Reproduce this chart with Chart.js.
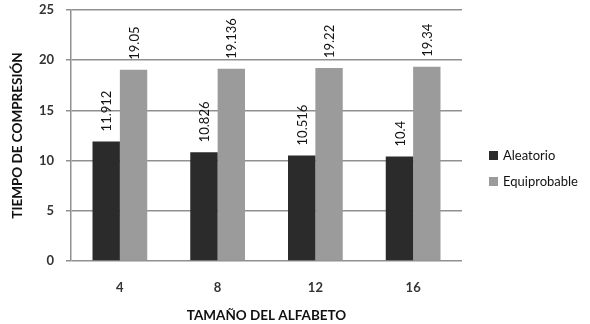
<!DOCTYPE html>
<html>
<head>
<meta charset="utf-8">
<script src="https://cdn.jsdelivr.net/npm/chart.js@4.4.1/dist/chart.umd.min.js"></script>
<style>
  html, body { margin: 0; padding: 0; background: #ffffff; }
  canvas { display: block; }
</style>
</head>
<body>
<canvas id="chart" width="590" height="324"></canvas>
<script>
// Alphabet sizes and compression times for each source type
const categories = ['4', '8', '12', '16'];
const aleatorio = [11.912, 10.826, 10.516, 10.4];
const equiprobable = [19.05, 19.136, 19.22, 19.34];
const seriesNames = ['Aleatorio', 'Equiprobable'];
const yTicks = [0, 5, 10, 15, 20, 25];

const FONT = 'Lato, "Open Sans", sans-serif';
const COLORS = ['#2b2b2b', '#9b9b9b'];

// Rotated value labels just above each bar
const valueLabels = {
  id: 'valueLabels',
  afterDatasetsDraw(chart) {
    const ctx = chart.ctx;
    ctx.save();
    ctx.font = '13px ' + FONT;
    ctx.fillStyle = '#111111';
    ctx.textAlign = 'left';
    ctx.textBaseline = 'middle';
    chart.data.datasets.forEach((ds, di) => {
      const meta = chart.getDatasetMeta(di);
      meta.data.forEach((bar, i) => {
        ctx.save();
        ctx.translate(bar.x + 1, bar.y - 10);
        ctx.rotate(-Math.PI / 2);
        ctx.fillText(String(ds.data[i]), 0, 0);
        ctx.restore();
      });
    });
    ctx.restore();
  }
};

// Legend to the right of the plot
const sideLegend = {
  id: 'sideLegend',
  afterDraw(chart) {
    const ctx = chart.ctx;
    const area = chart.chartArea;
    const x0 = area.right + 27;
    const yStart = 156;
    const gap = 26;
    ctx.save();
    ctx.font = '13px ' + FONT;
    ctx.textBaseline = 'middle';
    ctx.textAlign = 'left';
    chart.data.datasets.forEach((ds, i) => {
      const y = yStart + i * gap;
      ctx.fillStyle = ds.backgroundColor;
      ctx.fillRect(x0, y - 5, 9, 9);
      ctx.fillStyle = '#111111';
      ctx.fillText(ds.label, x0 + 14, y);
    });
    ctx.restore();
  }
};

new Chart(document.getElementById('chart'), {
  type: 'bar',
  data: {
    labels: categories,
    datasets: [
      { label: seriesNames[0], data: aleatorio, backgroundColor: COLORS[0] },
      { label: seriesNames[1], data: equiprobable, backgroundColor: COLORS[1] }
    ]
  },
  options: {
    responsive: false,
    animation: false,
    devicePixelRatio: 1,
    layout: { padding: { top: 10, right: 128, left: 0, bottom: 0 } },
    datasets: { bar: { categoryPercentage: 0.56, barPercentage: 1.0 } },
    plugins: {
      legend: { display: false },
      tooltip: { enabled: false }
    },
    scales: {
      x: {
        grid: { display: false, drawTicks: false },
        border: { display: false },
        ticks: { padding: 19, color: '#333333', font: { family: FONT, size: 13, weight: 'bold' } },
        title: {
          display: true,
          text: 'TAMAÑO DEL ALFABETO',
          color: '#111111',
          font: { family: FONT, size: 13.5, weight: 'bold' },
          padding: { top: 1, bottom: 0 }
        },
        afterFit(scale) { scale.height = 63; }
      },
      y: {
        min: 0,
        max: 25,
        afterBuildTicks(scale) { scale.ticks = yTicks.map(v => ({ value: v })); },
        grid: { color: '#909090', lineWidth: 1.5, tickLength: 5, drawTicks: true },
        border: { display: true, color: '#909090', width: 1.5 },
        ticks: { padding: 12, color: '#333333', font: { family: FONT, size: 13, weight: 'bold' } },
        title: {
          display: true,
          text: 'TIEMPO DE COMPRESIÓN',
          color: '#111111',
          font: { family: FONT, size: 13.5, weight: 'bold' },
          padding: { top: 10, bottom: 0 }
        },
        afterFit(scale) {
          scale.width = 71;
          scale.paddingTop = 0;
          scale.paddingBottom = 0;
        }
      }
    }
  },
  plugins: [valueLabels, sideLegend]
});
</script>
</body>
</html>
